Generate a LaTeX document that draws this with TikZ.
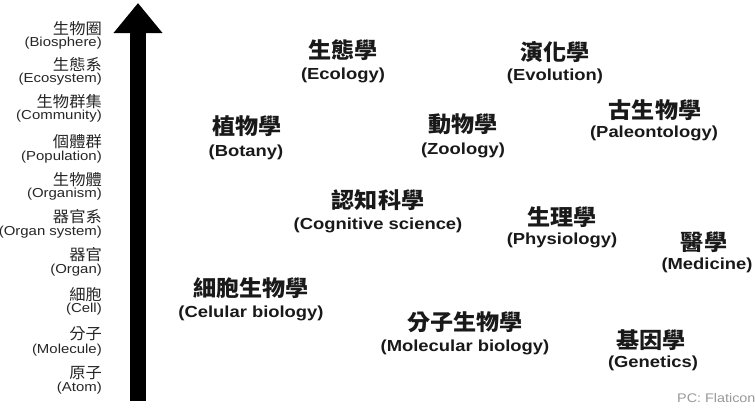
\documentclass[tikz,border=0pt]{standalone}
\usepackage{fontspec}
\setmainfont{Liberation Sans}[FakeStretch=1.15]
\newfontfamily\cjk{Noto Sans CJK TC}[FakeStretch=1.05]
\usetikzlibrary{arrows.meta}
\begin{document}
\begin{tikzpicture}[x=1pt,y=-1pt,
  lvzh/.style={anchor=east,inner sep=0pt,font=\cjk\fontsize{15.5}{15.5}\selectfont,text=black!85},
  lven/.style={anchor=east,inner sep=0pt,font=\fontsize{13}{13}\selectfont,text=black!85},
  fzh/.style={inner sep=0pt,font=\cjk\bfseries\fontsize{22}{22}\selectfont,text=black!90},
  fen/.style={inner sep=0pt,font=\bfseries\fontsize{16}{16}\selectfont,text=black!90},
  credit/.style={anchor=west,inner sep=0pt,font=\fontsize{12.5}{12.5}\selectfont,text=black!40},
  levelarrow/.style={line width=16pt,line cap=butt,-{Triangle[width=47pt,length=30pt]}}
]
\useasboundingbox[fill=white] (0,0) rectangle (755,410);

% scale arrow
\coordinate (abot) at (138,401);
\coordinate (atop) at (138,3);
\draw[levelarrow] (abot) -- (atop);

% levels of organisation
\foreach \zh/\en/\yz/\ye [count=\i] in {
  生物圈/(Biosphere)/29/43,
  生態系/(Ecosystem)/65/79,
  生物群集/(Community)/102/116,
  個體群/(Population)/142/157,
  生物體/(Organism)/180/194,
  器官系/(Organ system)/217/232,
  器官/(Organ)/255/270,
  細胞/(Cell)/295/309,
  分子/(Molecule)/334/350,
  原子/(Atom)/373/388}
{
  \node[lvzh] (lz\i) at (102,\yz) {\zh};
  \node[lven] (le\i) at (102,\ye) {\en};
}

% fields
\node[fzh] (ecoz) at (343,50) {生態學};
\node[fen] (ecoe) at (343,75) {(Ecology)};
\node[fzh] (evoz) at (555,52) {演化學};
\node[fen] (evoe) at (555,76) {(Evolution)};
\node[fzh] (palz) at (655,110) {古生物學};
\node[fen] (pale) at (654,133) {(Paleontology)};
\node[fzh] (botz) at (247,126) {植物學};
\node[fen] (bote) at (246,152) {(Botany)};
\node[fzh] (zooz) at (463,124) {動物學};
\node[fen] (zooe) at (463,150) {(Zoology)};
\node[fzh] (cogz) at (378,200) {認知科學};
\node[fen] (coge) at (378,225) {(Cognitive science)};
\node[fzh] (phyz) at (562,217) {生理學};
\node[fen] (phye) at (562,240) {(Physiology)};
\node[fzh] (medz) at (704,242) {醫學};
\node[fen] (mede) at (707,265) {(Medicine)};
\node[fzh] (celz) at (251,288) {細胞生物學};
\node[fen] (cele) at (251,313) {(Celular biology)};
\node[fzh] (molz) at (465,322) {分子生物學};
\node[fen] (mole) at (465,347) {(Molecular biology)};
\node[fzh] (genz) at (651,340) {基因學};
\node[fen] (gene) at (653,363) {(Genetics)};

\node[credit] (pc) at (677,398) {PC: Flaticon};
\end{tikzpicture}
\end{document}
